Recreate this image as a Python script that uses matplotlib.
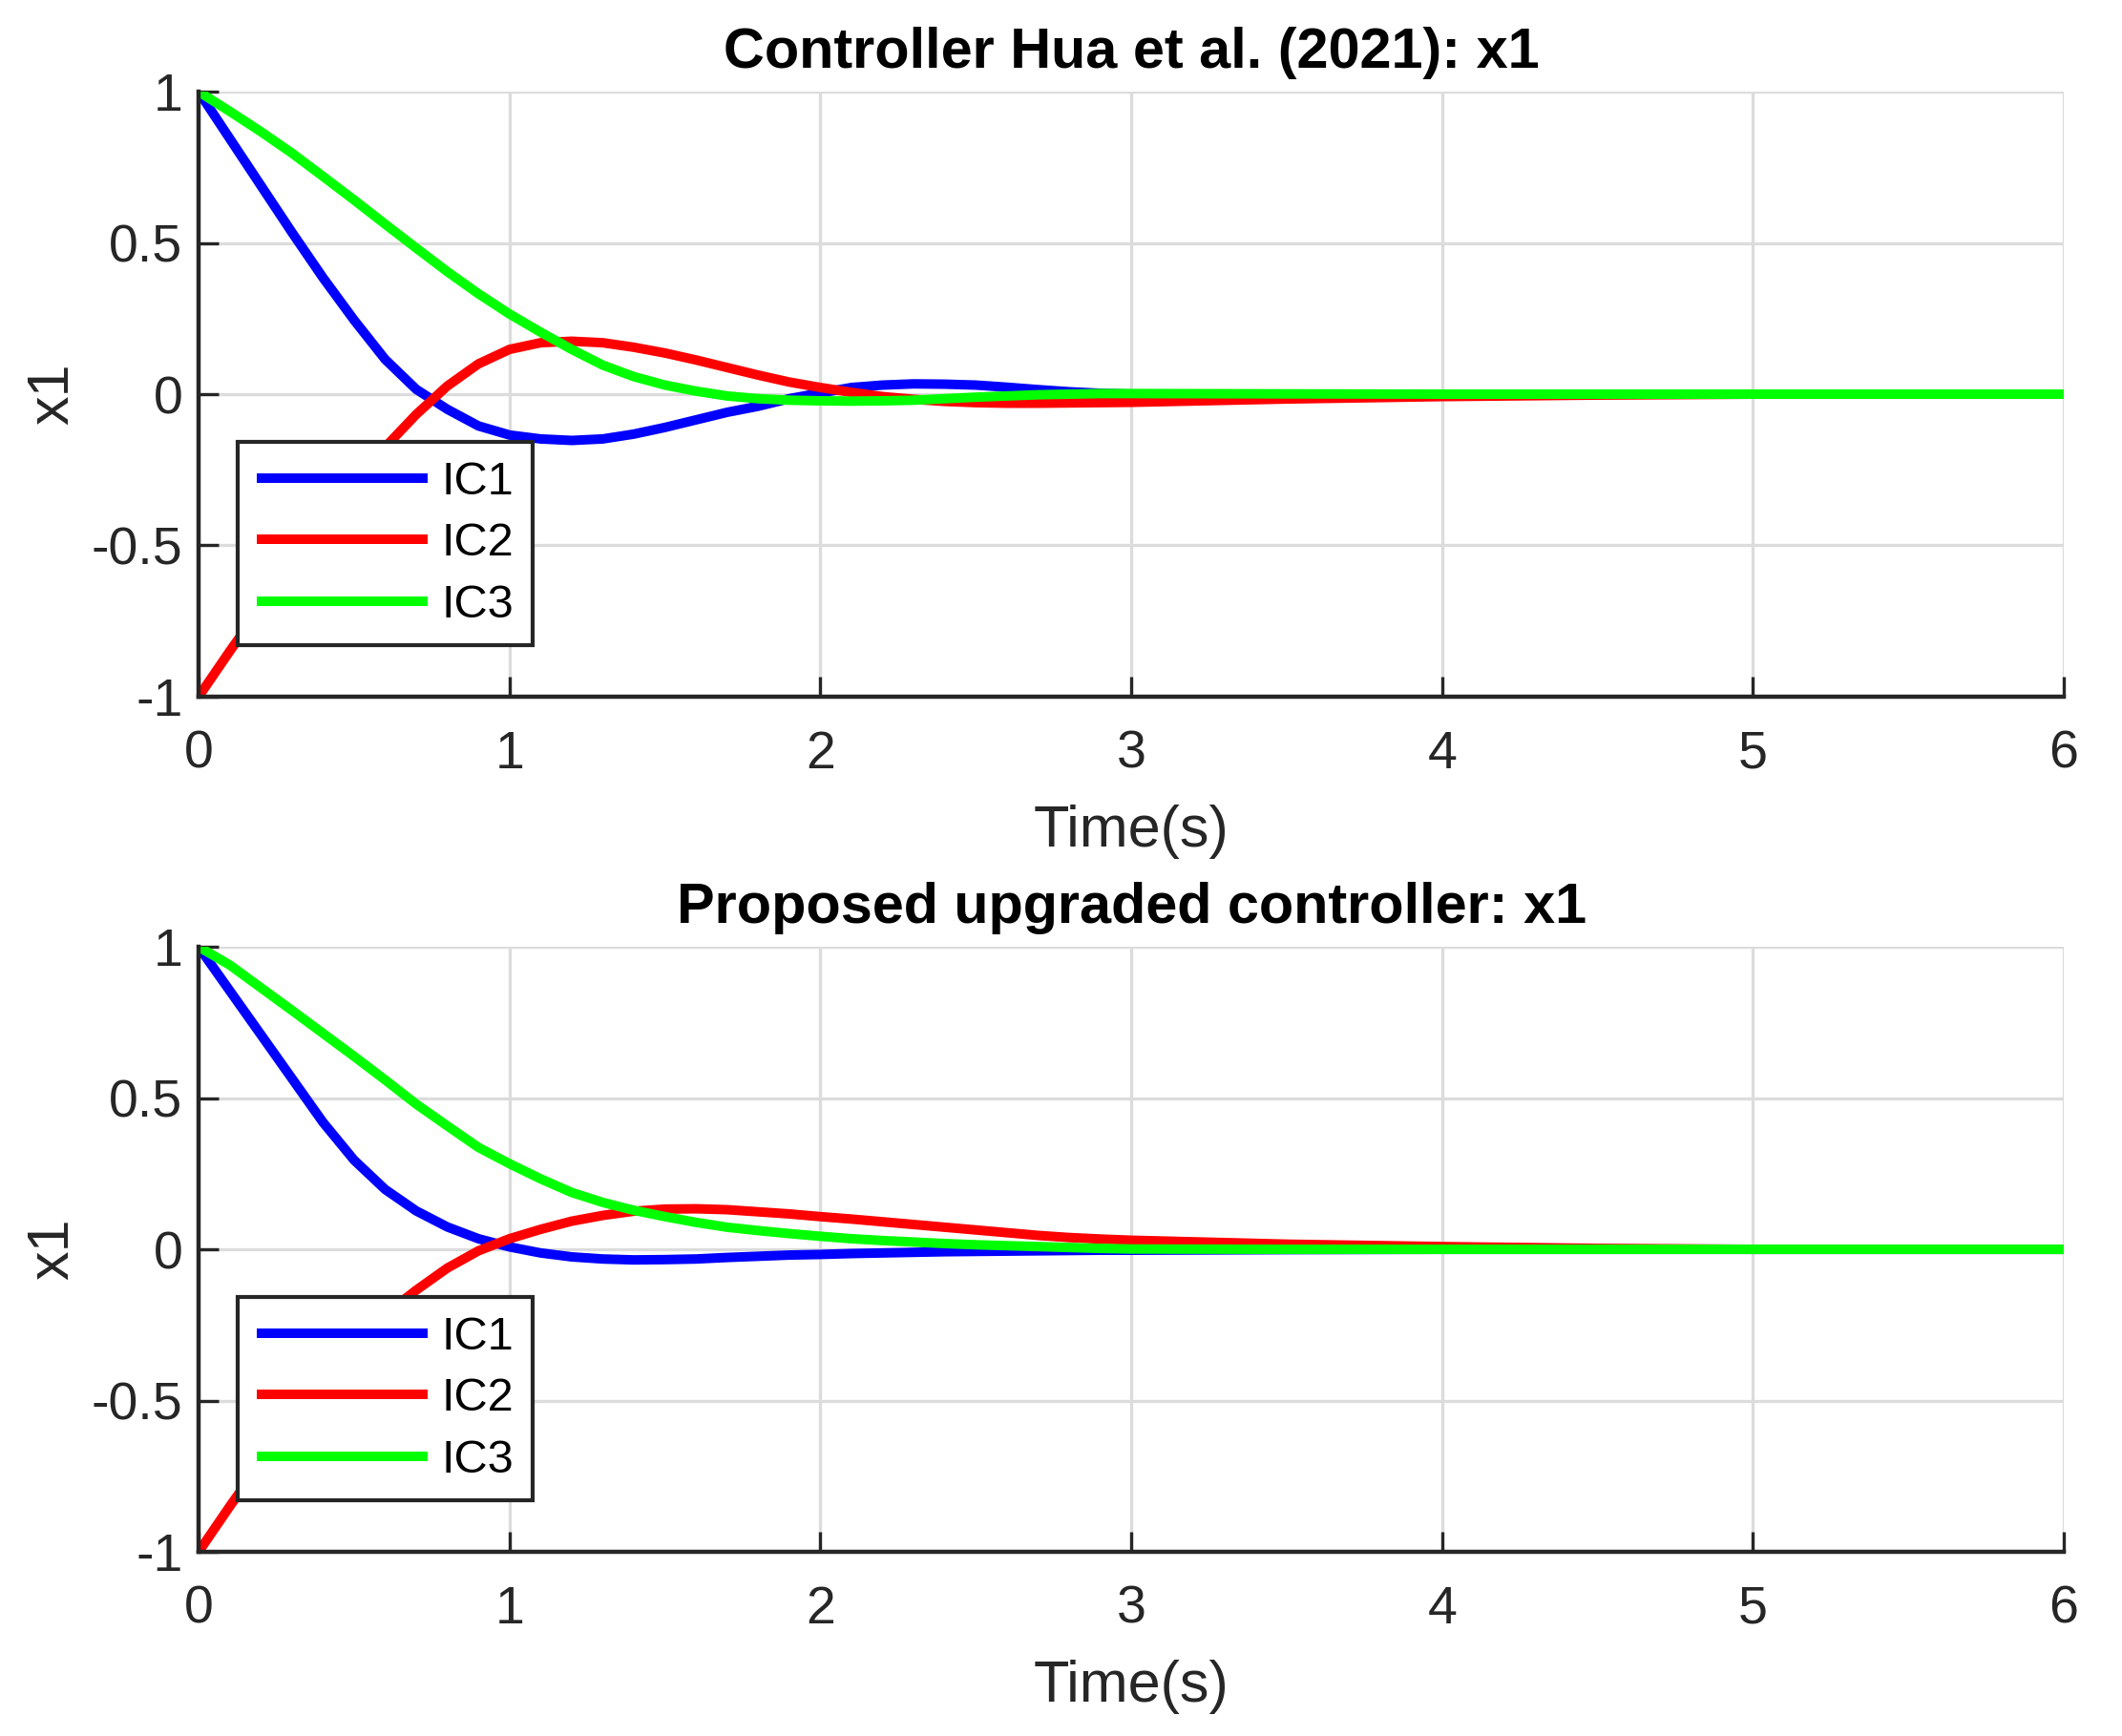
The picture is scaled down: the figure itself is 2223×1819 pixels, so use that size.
import numpy as np
import matplotlib
matplotlib.use("Agg")
import matplotlib.pyplot as plt

plt.rcParams['font.family'] = ['Liberation Sans', 'DejaVu Sans']
plt.rcParams['axes.unicode_minus'] = False

# time samples (s)
t = [0.0, 0.1, 0.2, 0.3, 0.4, 0.5, 0.6, 0.7, 0.8, 0.9, 1.0,
     1.1, 1.2, 1.3, 1.4, 1.5, 1.6, 1.7, 1.8, 1.9, 2.0,
     2.1, 2.2, 2.3, 2.4, 2.5, 2.6, 2.7, 2.8, 2.9, 3.0,
     3.5, 4.0, 4.5, 5.0, 6.0]

# Controller Hua et al. (2021)
hua_ic1 = [1.0, 0.845, 0.69, 0.535, 0.385, 0.245, 0.115, 0.016, -0.05, -0.105, -0.135,
           -0.148, -0.153, -0.148, -0.132, -0.11, -0.085, -0.06, -0.04, -0.015, 0.004,
           0.022, 0.030, 0.034, 0.033, 0.030, 0.023, 0.015, 0.008, 0.003, 0.0,
           -0.002, 0.0, 0.0, 0.0, 0.0]
hua_ic2 = [-1.0, -0.85, -0.705, -0.57, -0.44, -0.305, -0.175, -0.067, 0.027, 0.100, 0.148,
           0.170, 0.175, 0.170, 0.155, 0.136, 0.113, 0.088, 0.063, 0.040, 0.022,
           0.006, -0.008, -0.017, -0.024, -0.028, -0.030, -0.030, -0.029, -0.028, -0.027,
           -0.016, -0.008, -0.003, 0.0, 0.0]
hua_ic3 = [1.0, 0.935, 0.868, 0.797, 0.72, 0.642, 0.562, 0.483, 0.405, 0.332, 0.265,
           0.205, 0.148, 0.096, 0.058, 0.030, 0.010, -0.006, -0.015, -0.020, -0.022,
           -0.023, -0.022, -0.020, -0.015, -0.010, -0.006, -0.002, 0.0, 0.002, 0.002,
           0.001, 0.0, 0.0, 0.0, 0.0]

# Proposed upgraded controller
prop_ic1 = [1.0, 0.855, 0.71, 0.565, 0.42, 0.295, 0.198, 0.127, 0.074, 0.035, 0.008,
            -0.012, -0.025, -0.032, -0.035, -0.034, -0.032, -0.027, -0.023, -0.019, -0.017,
            -0.014, -0.012, -0.010, -0.008, -0.007, -0.006, -0.005, -0.004, -0.003, -0.003,
            -0.001, 0.0, 0.0, 0.0, 0.0]
prop_ic2 = [-1.0, -0.85, -0.705, -0.565, -0.435, -0.315, -0.215, -0.135, -0.062, -0.005, 0.035,
            0.066, 0.093, 0.112, 0.126, 0.133, 0.134, 0.131, 0.124, 0.117, 0.108,
            0.100, 0.091, 0.082, 0.073, 0.064, 0.055, 0.046, 0.039, 0.034, 0.030,
            0.017, 0.009, 0.003, 0.0, 0.0]
prop_ic3 = [1.0, 0.94, 0.865, 0.79, 0.714, 0.638, 0.56, 0.48, 0.408, 0.337, 0.283,
            0.233, 0.188, 0.155, 0.129, 0.108, 0.089, 0.073, 0.062, 0.052, 0.043,
            0.035, 0.029, 0.024, 0.019, 0.015, 0.012, 0.009, 0.006, 0.003, 0.001,
            0.0, 0.0, 0.0, 0.0, 0.0]

labels = ["IC1", "IC2", "IC3"]
colors = [(0, 0, 1), (1, 0, 0), (0, 1, 0)]
xticks = [0, 1, 2, 3, 4, 5, 6]
yticks = [-1, -0.5, 0, 0.5, 1]
ytick_labels = ["-1", "-0.5", "0", "0.5", "1"]

panels = [("Controller Hua et al. (2021): x1", [hua_ic1, hua_ic2, hua_ic3]),
          ("Proposed upgraded controller: x1", [prop_ic1, prop_ic2, prop_ic3])]

fig = plt.figure(figsize=(11.115, 9.095), dpi=200)
axes = [fig.add_axes([0.0936, 0.5987, 0.879, 0.3485]),
        fig.add_axes([0.0936, 0.1061, 0.879, 0.3485])]

dark = "#262626"
for ax, (title, series) in zip(axes, panels):
  for y, lab, c in zip(series, labels, colors):
    ax.plot(t, y, color=c, lw=3.6, label=lab, solid_joinstyle="round",
            solid_capstyle="butt")
  ax.set_xlim(0, 6)
  ax.set_ylim(-1, 1)
  ax.set_xticks(xticks)
  ax.set_xticklabels([str(v) for v in xticks])
  ax.set_yticks(yticks)
  ax.set_yticklabels(ytick_labels)
  ax.grid(True, color="#dcdcdc", lw=1.2)
  ax.set_axisbelow(True)
  for s in ["top", "right"]:
    ax.spines[s].set_visible(False)
  for s in ["left", "bottom"]:
    ax.spines[s].set_color(dark)
    ax.spines[s].set_linewidth(1.6)
  ax.tick_params(axis="both", direction="in", length=7.5, width=1.2, color=dark,
                 labelcolor=dark, labelsize=20)
  ax.tick_params(axis="x", pad=12.5)
  ax.tick_params(axis="y", pad=6)
  ax.set_xlabel("Time(s)", fontsize=22, color=dark, labelpad=9.5)
  ax.set_ylabel("x1", fontsize=22, color=dark, labelpad=4)
  ax.set_title(title, fontsize=21.4, fontweight="bold", pad=9)
  leg = ax.legend(loc="lower left", bbox_to_anchor=(0.021, 0.085), borderaxespad=0,
                  fontsize=17.5, handlelength=3.7, handletextpad=0.3, labelspacing=0.4,
                  borderpad=0.4, fancybox=False, framealpha=1)
  leg.get_frame().set_edgecolor(dark)
  leg.get_frame().set_linewidth(1.5)

plt.savefig("out.png", dpi=200)
